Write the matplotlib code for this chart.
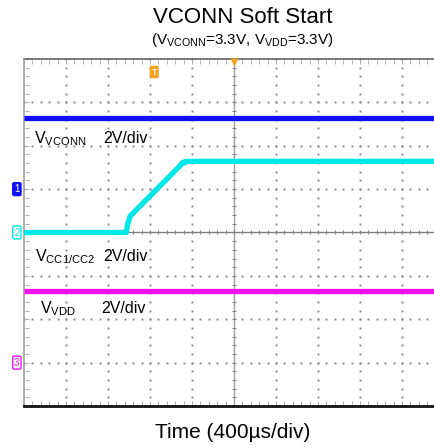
import numpy as np
import matplotlib
matplotlib.use("Agg")
import matplotlib.pyplot as plt

plt.rcParams['font.family'] = ['Liberation Sans', 'DejaVu Sans']
plt.rcParams['mathtext.fontset'] = 'custom'
plt.rcParams['mathtext.rm'] = 'Liberation Sans'
plt.rcParams['mathtext.it'] = 'Liberation Sans'

# ---- data (time in microseconds, voltages in volts) ----
time_flat = [0, 4000]
vconn_v = [3.3, 3.3]
vdd_v = [3.3, 3.3]
vcc_time = [0, 975, 985, 1010, 1480, 1505, 1520, 1530, 1545, 4000]
vcc_v = [0.0, 0.0, 0.35, 0.75, 3.05, 3.2, 3.25, 3.2, 3.28, 3.28]

title = "VCONN Soft Start"
subtitle = r"(V$_{\mathrm{VCONN}}$=3.3V, V$_{\mathrm{VDD}}$=3.3V)"
xlabel = "Time (400\u00b5s/div)"
ch_labels = [r"V$_{\mathrm{VCONN}}$", r"V$_{\mathrm{CC1/CC2}}$", r"V$_{\mathrm{VDD}}$"]
scale_label = "2V/div"

# scope settings
us_per_div = 400.0
v_per_div = 2.0
offsets = {1: 1.0, 2: 0.0, 3: -3.0}   # ground positions in divisions
colors = {1: '#1010f0', 2: '#00e8e8', 3: '#f010f0'}

W, H = 434, 448
fig = plt.figure(figsize=(W / 100, H / 100), dpi=100)
left_px, top_px, bot_px = 24, 59, 406
div_px = 42.0
xmax = (W - left_px) / div_px
ax = fig.add_axes([left_px / W, (H - bot_px) / H, (W - left_px) / W, (bot_px - top_px) / H])
ax.set_xlim(0, xmax)
ax.set_ylim(-4, 4)
ax.axis('off')

# grid dots
minor_x = np.arange(0, 10.01, 0.2)
minor_y = np.arange(-4, 4.01, 0.2)
dot_c = '#8c8c8c'
for gx in range(1, 10):
    if gx == 5:
        continue
    ax.plot(np.full_like(minor_y, gx), minor_y, ls='none', marker='s', ms=1.4,
            color=dot_c, mec='none', zorder=1)
for gy in range(-3, 4):
    if gy == 0:
        continue
    ax.plot(minor_x, np.full_like(minor_x, gy), ls='none', marker='s', ms=1.4,
            color=dot_c, mec='none', zorder=1)

# center cross
ax.axvline(5, color='#a0a0a0', lw=1.0, zorder=1)
ax.axhline(0, color='#808080', lw=1.0, zorder=1)
ax.plot(np.full_like(minor_y, 5), minor_y, ls='none', marker='_', ms=3, mew=0.7, color='#808080', zorder=1)
ax.plot(minor_x, np.zeros_like(minor_x), ls='none', marker='|', ms=3, mew=0.7, color='#808080', zorder=1)

# border
ax.plot([0, 10], [4, 4], color='#606060', lw=1.2, zorder=2, clip_on=False)
ax.plot([0, 0], [-4, 4], color='#a0a0a0', lw=1.2, zorder=2, clip_on=False)
ax.plot([0, 10], [-4, -4], color='#101010', lw=2.0, zorder=2, clip_on=False)
ax.plot(minor_x, np.full_like(minor_x, 3.94), ls='none', marker='|', ms=2.5, mew=0.6, color='#a0a0a0', zorder=1)
ax.plot(minor_x, np.full_like(minor_x, -3.94), ls='none', marker='|', ms=2.5, mew=0.6, color='#a0a0a0', zorder=1)
ax.plot(np.full_like(minor_y, 0.06), minor_y, ls='none', marker='_', ms=2.5, mew=0.6, color='#a0a0a0', zorder=1)

def to_div(t, v, ch):
    return np.asarray(t) / us_per_div, np.asarray(v) / v_per_div + offsets[ch]

x1, y1 = to_div(time_flat, vconn_v, 1)
ax.plot(x1, y1, color=colors[1], lw=3.8, zorder=3, solid_capstyle='butt')
x2, y2 = to_div(vcc_time, vcc_v, 2)
ax.plot(x2, y2, color=colors[2], lw=3.8, zorder=3, solid_capstyle='butt', solid_joinstyle='round')
x3, y3 = to_div(time_flat, vdd_v, 3)
ax.plot(x3, y3, color=colors[3], lw=3.8, zorder=3, solid_capstyle='butt')

# channel labels
lab_fs = 11.5
ax.text(0.25, 2.17, ch_labels[0], fontsize=lab_fs, va='center', ha='left', zorder=4)
ax.text(1.88, 2.17, scale_label, fontsize=lab_fs, va='center', ha='left', zorder=4)
ax.text(0.27, -0.55, ch_labels[1], fontsize=lab_fs, va='center', ha='left', zorder=4)
ax.text(1.88, -0.55, scale_label, fontsize=lab_fs, va='center', ha='left', zorder=4)
ax.text(0.37, -1.75, ch_labels[2], fontsize=lab_fs, va='center', ha='left', zorder=4)
ax.text(1.85, -1.75, scale_label, fontsize=lab_fs, va='center', ha='left', zorder=4)

# channel markers on the left edge
ax.text(-0.17, offsets[1], "1", fontsize=7, color='white', ha='center', va='center', clip_on=False,
        bbox=dict(boxstyle='round,pad=0.15', fc=colors[1], ec=colors[1]), zorder=5)
ax.text(-0.17, offsets[2], "2", fontsize=7, color=colors[2], ha='center', va='center', clip_on=False,
        bbox=dict(boxstyle='round,pad=0.15', fc='white', ec=colors[2], lw=1), zorder=5)
ax.text(-0.17, offsets[3], "3", fontsize=7, color=colors[3], ha='center', va='center', clip_on=False,
        bbox=dict(boxstyle='round,pad=0.15', fc='white', ec=colors[3], lw=1), zorder=5)

# trigger markers
ax.plot([5], [3.93], marker='v', ms=6, color='#f5a020', mec='none', clip_on=False, zorder=5)
ax.text(3.1, 3.7, "T", fontsize=6.5, color='#fff0d0', ha='center', va='center', fontweight='bold',
        bbox=dict(boxstyle='round,pad=0.12', fc='#f5a020', ec='#f5a020'), zorder=5)

# titles
fig.text(243 / W, 1 - 23 / H, title, fontsize=16, ha='center', va='baseline')
fig.text(242 / W, 1 - 44 / H, subtitle, fontsize=11, ha='center', va='baseline')
fig.text(233 / W, 1 - 438 / H, xlabel, fontsize=15, ha='center', va='baseline')

fig.savefig("out.png", dpi=100, facecolor='white')
